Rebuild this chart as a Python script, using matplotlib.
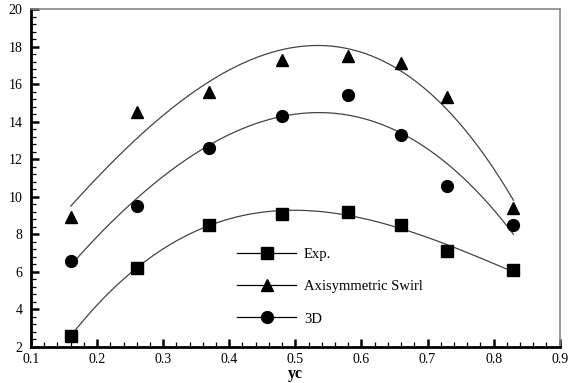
import numpy as np
import matplotlib
matplotlib.use("Agg")
import matplotlib.pyplot as plt
from matplotlib.ticker import MultipleLocator, FormatStrFormatter
from matplotlib.lines import Line2D

x = [0.16, 0.26, 0.37, 0.48, 0.58, 0.66, 0.73, 0.83]
exp_vals = [2.6, 6.2, 8.5, 9.1, 9.2, 8.5, 7.1, 6.1]
axi_vals = [8.9, 14.5, 15.6, 17.3, 17.5, 17.1, 15.3, 9.4]
d3_vals = [6.6, 9.5, 12.6, 14.3, 15.4, 13.3, 10.6, 8.5]
labels = ["Exp.", "Axisymmetric Swirl", "3D"]
markers = ["s", "^", "o"]
xticks = [0.1, 0.2, 0.3, 0.4, 0.5, 0.6, 0.7, 0.8, 0.9]
yticks = [2, 4, 6, 8, 10, 12, 14, 16, 18, 20]

plt.rcParams['font.family'] = ['Liberation Serif', 'DejaVu Serif']
fig = plt.figure(figsize=(5.7, 3.83), dpi=100)
ax = fig.add_axes([0.0544, 0.094, 0.9275, 0.8825])

xs = np.linspace(min(x), max(x), 200)
for vals, m in zip([exp_vals, axi_vals, d3_vals], markers):
    coef = np.polyfit(x, vals, 3)
    ax.plot(xs, np.polyval(coef, xs), color='#444444', lw=0.9)
    ax.plot(x, vals, linestyle='none', marker=m, color='black', markersize=8.5)

handles = [Line2D([], [], color='black', lw=0.9, marker=m, markersize=8.5) for m in markers]
leg = ax.legend(handles, labels, loc='upper left', bbox_to_anchor=(0.378, 0.31),
                frameon=False, fontsize=10.5, handlelength=4.1, labelspacing=1.3,
                handletextpad=0.5, borderaxespad=0)

ax.set_xlim(0.1, 0.9)
ax.set_ylim(2, 20)
ax.set_xticks(xticks)
ax.set_yticks(yticks)
ax.xaxis.set_major_formatter(FormatStrFormatter('%.1f'))
ax.xaxis.set_minor_locator(MultipleLocator(0.02))
ax.yaxis.set_minor_locator(MultipleLocator(0.4))
ax.tick_params(which='major', direction='in', length=6, width=1.8, labelsize=10, top=False, right=False)
ax.tick_params(which='minor', direction='in', length=3.5, width=0.9, top=False, right=False)
ax.tick_params(axis='x', pad=4)
ax.tick_params(axis='y', pad=6)
for s in ['left', 'bottom']:
    ax.spines[s].set_linewidth(2)
    ax.spines[s].set_color('black')
for s in ['top', 'right']:
    ax.spines[s].set_linewidth(1.2)
    ax.spines[s].set_color('#888888')
ax.set_xlabel('yc', fontsize=11.5, fontweight='bold', labelpad=0)

fig.savefig('out.png', dpi=100)
